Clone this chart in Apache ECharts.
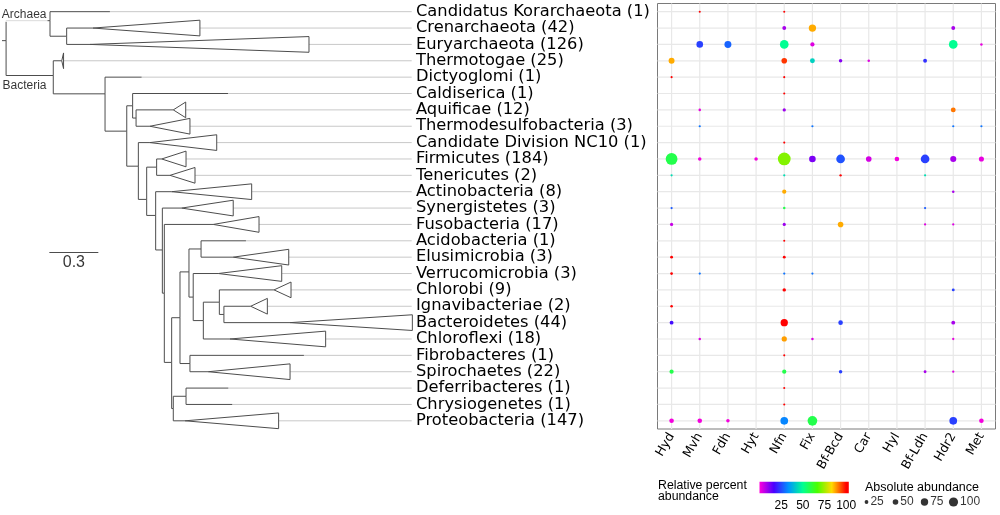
<!DOCTYPE html>
<html><head><meta charset="utf-8">
<script src="https://cdn.jsdelivr.net/npm/echarts@6/dist/echarts.min.js"></script>
<style>html,body{margin:0;padding:0;background:#fff}#c{width:1000px;height:515px}</style>
</head><body><div id="c"></div>
<script>
// ---------- data ----------
const phyla = ['Candidatus Korarchaeota (1)','Crenarchaeota (42)','Euryarchaeota (126)','Thermotogae (25)',
 'Dictyoglomi (1)','Caldiserica (1)','Aquificae (12)','Thermodesulfobacteria (3)','Candidate Division NC10 (1)',
 'Firmicutes (184)','Tenericutes (2)','Actinobacteria (8)','Synergistetes (3)','Fusobacteria (17)','Acidobacteria (1)',
 'Elusimicrobia (3)','Verrucomicrobia (3)','Chlorobi (9)','Ignavibacteriae (2)','Bacteroidetes (44)','Chloroflexi (18)',
 'Fibrobacteres (1)','Spirochaetes (22)','Deferribacteres (1)','Chrysiogenetes (1)','Proteobacteria (147)'];
const genes = ['Hyd','Mvh','Fdh','Hyt','Nfn','Fix','Bf-Bcd','Car','Hyl','Bf-Ldh','Hdr2','Met'];
// [gene index, phylum row (1-based), absolute abundance, relative percent]
const bubbles = [
 [1,1,1,100],[4,1,1,100],
 [4,2,26,8],[5,2,74,87],[10,2,26,8],
 [1,3,64,24],[2,3,69,28],[4,3,93,50],[5,3,31,3],[10,3,93,50],[11,3,7,2],
 [0,4,55,87],[4,4,50,96],[5,4,40,43],[6,4,21,11],[7,4,7,3],[9,4,26,22],
 [0,5,1,100],[4,5,1,100],
 [4,6,1,100],
 [1,7,7,2],[4,7,17,9],[10,7,40,91],
 [1,8,3,30],[5,8,3,30],[10,8,3,30],[11,8,3,30],
 [4,9,1,100],
 [0,10,136,58],[1,10,21,1],[3,10,21,1],[4,10,150,72],[5,10,64,12],[6,10,93,26],[7,10,50,4],[8,10,36,1],[9,10,93,24],[10,10,57,8],[11,10,43,2],
 [0,11,3,45],[4,11,3,45],[6,11,5,100],[9,11,3,45],
 [4,12,31,87],[10,12,7,8],
 [0,13,3,27],[4,13,7,58],[9,13,3,27],
 [0,14,17,5],[4,14,17,9],[6,14,50,87],[9,14,3,3],[10,14,3,3],
 [4,15,1,100],
 [0,16,12,100],[4,16,12,100],
 [0,17,10,100],[1,17,3,30],[4,17,3,30],[5,17,3,30],
 [4,18,20,100],[10,18,12,24],
 [0,19,8,100],
 [0,20,26,18],[4,20,74,100],[6,20,36,24],[10,20,26,8],
 [1,21,7,3],[4,21,45,88],[5,21,7,3],[10,21,4,2],
 [4,22,1,100],
 [0,23,31,58],[4,23,31,58],[6,23,21,24],[9,23,12,8],[10,23,4,3],
 [4,24,1,100],
 [4,25,1,100],
 [0,26,36,1],[1,26,36,1],[2,26,21,1],[4,26,79,32],[5,26,107,58],[10,26,79,24],[11,26,36,1]
];
const colorStops = ['#FF00DB','#4900FF','#0092FF','#00FF92','#49FF00','#FFDB00','#FF0000'];
const colorbarTicks = [25,50,75,100];
const sizeLegendValues = [25,50,75,100];
// tree: [id, parent, depth (branch length), row position]
const treeNodes = [
 ['root',null,0.025,2.77],['A','root',0.294,1.55],['CE','A',0.396,2.5],['Bn','root',0.314,4.9],
 ['B1','Bn',0.631,6.02],['B2','B1',0.764,8.3],['B3','B2',0.800,6.75],['B4','B3',0.821,7.5],
 ['B5','B2',0.835,10.44],['B6','B5',0.886,12.47],['FT','B6',0.947,10.5],['B7','B6',0.941,13.45],
 ['B8','B7',0.982,15.56],['B9','B8',0.994,18.2],['Q','B9',1.039,22.43],['Q1','Q',1.090,19.7],
 ['Q2','Q1',1.145,16.9],['AE','Q2',1.219,15.5],['Q3','Q2',1.171,18.44],['Q4','Q3',1.233,19.875],
 ['Q5','Q4',1.331,18.75],['Q6','Q5',1.359,19.5],['FS','Q1',1.151,22.5],['P','Q',1.049,25.25],['DC','P',1.127,24.5]
];
// leaves: [row, parent, clade start depth, clade end depth, collapsed]
const leaves = [
 [1,'A',0.661,0.661,false],[2,'CE',0.557,1.212,true],[3,'CE',0.539,1.880,true],[4,'Bn',0.366,0.377,true],
 [5,'B1',0.855,0.855,false],[6,'B3',1.384,1.384,false],[7,'B4',1.049,1.125,true],[8,'B4',0.906,1.151,true],
 [9,'B5',0.906,1.315,true],[10,'FT',0.978,1.127,true],[11,'FT',1.029,1.182,true],[12,'B7',1.039,1.529,true],
 [13,'B8',1.100,1.416,true],[14,'B9',1.294,1.574,true],[15,'AE',1.494,1.494,false],[16,'AE',1.416,1.756,true],
 [17,'Q3',1.325,1.713,true],[18,'Q5',1.666,1.770,true],[19,'Q6',1.523,1.625,true],[20,'Q6',1.764,2.513,true],
 [21,'Q4',1.396,1.982,true],[22,'FS',1.849,1.849,false],[23,'FS',1.263,1.764,true],[24,'DC',1.386,1.386,false],
 [25,'DC',1.410,1.410,false],[26,'P',1.121,1.694,true]
];
const leaderEnd = 2.509;
const scaleBar = [0.29, 0.3, 15.7]; // start, length, row
const cladeLabels = [['Archaea',0.282,1.17],['Bacteria',0.282,5.54]];

// ---------- build ----------
const sizeOf = v => 2 + 0.072 * v;
const nodeMap = {};
treeNodes.forEach(n => nodeMap[n[0]] = {depth:n[2], row:n[3]});
const edges = [];
const rootN = nodeMap['root'];
edges.push({coords:[[0,rootN.row],[rootN.depth,rootN.row]]});
treeNodes.forEach(n => { if (n[1]) { const p = nodeMap[n[1]]; edges.push({coords:[[p.depth,p.row],[p.depth,n[3]],[n[2],n[3]]]}); }});
leaves.forEach(l => { const p = nodeMap[l[1]]; edges.push({coords:[[p.depth,p.row],[p.depth,l[0]],[l[2],l[0]]]}); });
const leaders = leaves.filter(l => l[3] < leaderEnd).map(l => ({coords:[[l[3],l[0]],[leaderEnd,l[0]]]}));
const tris = leaves.filter(l => l[4]).map(l => [l[2], l[3], l[0]]);
const cbMax = 103;
const gradStops = colorStops.map((c,i) => ({offset: (i/(colorStops.length-1))*100/cbMax, color:c}));
gradStops.push({offset:1, color:colorStops[colorStops.length-1]});

const TOP = 3.5, H = 425.5;
const lineCol = '#4d4d4d';
const gridCol = '#e8e8e8';
const chart = echarts.init(document.getElementById('c'), null, {renderer:'canvas', width:1000, height:515});
chart.setOption({
 animation:false,
 backgroundColor:'#fff',
 title:[
  {text:'Relative percent\nabundance', left:658, top:480, padding:0, textStyle:{fontSize:12.3, lineHeight:11, fontWeight:'normal', color:'#000', fontFamily:'Liberation Sans'}},
  {text:'Absolute abundance', left:865, top:481, padding:0, textStyle:{fontSize:12.5, fontWeight:'normal', color:'#000', fontFamily:'Liberation Sans'}}
 ],
 grid:[
  {left:2, width:411.5, top:TOP, height:H},
  {left:657.5, width:338, top:TOP, height:H, show:true, borderColor:'#7a7a7a', borderWidth:1, backgroundColor:'#fff'},
  {left:759.5, width:89.3, top:481.7, height:11.6},
  {left:852, width:116, top:494, height:16}
 ],
 xAxis:[
  {gridIndex:0, type:'value', min:0, max:2.52, show:false},
  {gridIndex:1, type:'category', data:genes, axisLine:{show:false}, axisTick:{show:false}, splitLine:{show:false},
   axisLabel:{interval:0, rotate:60, margin:5, fontSize:12.5, color:'#000', fontFamily:'DejaVu Sans'}},
  {gridIndex:2, type:'value', min:0, max:cbMax, position:'bottom', axisLine:{show:false}, splitLine:{show:false},
   axisTick:{show:true, inside:true, length:2.3, customValues:colorbarTicks, lineStyle:{color:'#fff', width:1}},
   axisLabel:{show:true, customValues:colorbarTicks, margin:6, fontSize:12, color:'#000', fontFamily:'Liberation Sans',
     formatter: v => colorbarTicks.includes(v) ? String(v) : ''}},
  {gridIndex:2, type:'value', min:0, max:cbMax, position:'top', axisLine:{show:false}, splitLine:{show:false},
   axisTick:{show:true, inside:true, length:2.3, customValues:colorbarTicks, lineStyle:{color:'#fff', width:1}},
   axisLabel:{show:false}},
  {gridIndex:3, type:'category', data:sizeLegendValues.map(String), show:false}
 ],
 yAxis:[
  {gridIndex:0, type:'value', min:0.5, max:26.5, inverse:true, show:false},
  {gridIndex:1, type:'category', data:phyla, inverse:true, axisLine:{show:false}, axisTick:{show:false}, splitLine:{show:false},
   axisLabel:{interval:0, align:'left', margin:241.5, fontSize:16.3, color:'#000', fontFamily:'DejaVu Sans'}},
  {gridIndex:2, type:'value', min:0, max:1, show:false},
  {gridIndex:3, type:'value', min:0, max:1, show:false}
 ],
 visualMap:[{type:'continuous', show:false, dimension:3, min:0, max:100, seriesIndex:6, inRange:{color:colorStops}}],
 series:[
  {type:'lines', coordinateSystem:'cartesian2d', xAxisIndex:0, yAxisIndex:0, polyline:true, silent:true,
   lineStyle:{color:'#c8c8c8', width:1, opacity:1}, data:leaders},
  {type:'lines', coordinateSystem:'cartesian2d', xAxisIndex:0, yAxisIndex:0, polyline:true, silent:true,
   lineStyle:{color:lineCol, width:1, opacity:1}, data:edges},
  {type:'custom', xAxisIndex:0, yAxisIndex:0, silent:true, data:tris,
   renderItem:(params, api) => {
     const r = api.value(2);
     const a = api.coord([api.value(0), r]);
     const t = api.coord([api.value(1), r - 0.48]);
     const b = api.coord([api.value(1), r + 0.48]);
     return {type:'polygon', shape:{points:[a,t,b]}, style:{fill:'#fff', stroke:lineCol, lineWidth:1}};
   }},
  {type:'lines', coordinateSystem:'cartesian2d', xAxisIndex:0, yAxisIndex:0, silent:true,
   lineStyle:{color:lineCol, width:1, opacity:1},
   data:[{coords:[[scaleBar[0],scaleBar[2]],[scaleBar[0]+scaleBar[1],scaleBar[2]]]}]},
  {type:'scatter', xAxisIndex:0, yAxisIndex:0, silent:true, symbolSize:1, itemStyle:{color:'rgba(0,0,0,0)'},
   data:[[scaleBar[0]+scaleBar[1]/2, scaleBar[2]+0.63, String(scaleBar[1])]],
   label:{show:true, position:'inside', formatter:p => p.value[2], fontSize:16, color:'#000', fontFamily:'Liberation Sans'}},
  {type:'scatter', xAxisIndex:0, yAxisIndex:0, silent:true, symbolSize:1, itemStyle:{color:'rgba(0,0,0,0)'},
   data:cladeLabels.map(c => [c[1], c[2], c[0]]), z:5,
   label:{show:true, position:'left', distance:0, formatter:p => p.value[2], fontSize:12, color:'#000',
     fontFamily:'Liberation Sans', backgroundColor:'#fff', padding:[1,1,2,1]}},
  {type:'scatter', xAxisIndex:1, yAxisIndex:1, silent:true, z:4,
   data:bubbles.map(b => [b[0], b[1]-1, b[2], b[3]]),
   symbolSize: v => sizeOf(v[2]), itemStyle:{opacity:1}},
  {type:'custom', xAxisIndex:2, yAxisIndex:2, silent:true, data:[[0, cbMax]], z:1,
   renderItem:(params, api) => {
     const p0 = api.coord([api.value(0), 1]);
     const p1 = api.coord([api.value(1), 0]);
     return {type:'rect', shape:{x:p0[0], y:p0[1], width:p1[0]-p0[0], height:p1[1]-p0[1]},
       style:{fill:new echarts.graphic.LinearGradient(0,0,1,0,gradStops)}};
   }},
  {type:'scatter', xAxisIndex:4, yAxisIndex:3, silent:true,
   data:sizeLegendValues.map((v,i) => [i, 0.5, v]),
   symbolSize: v => sizeOf(v[2]), itemStyle:{color:'#000'},
   label:{show:true, position:'right', distance:2, formatter:p => String(p.value[2]), fontSize:12, color:'#000', fontFamily:'Liberation Sans'}},
  // panel gridlines through category centres
  {type:'custom', xAxisIndex:1, yAxisIndex:1, silent:true, z:1, data:genes.map((g,i) => [i, 0]),
   renderItem:(params, api) => {
     const cs = params.coordSys; const x = api.coord([api.value(0), 0])[0];
     return {type:'line', shape:{x1:x, y1:cs.y, x2:x, y2:cs.y + cs.height}, style:{stroke:gridCol, lineWidth:1.2}};
   }},
  {type:'custom', xAxisIndex:1, yAxisIndex:1, silent:true, z:1, data:phyla.map((p,i) => [0, i]),
   renderItem:(params, api) => {
     const cs = params.coordSys; const y = api.coord([0, api.value(1)])[1];
     return {type:'line', shape:{x1:cs.x, y1:y, x2:cs.x + cs.width, y2:y}, style:{stroke:gridCol, lineWidth:1.2}};
   }}
 ]
});
</script></body></html>
